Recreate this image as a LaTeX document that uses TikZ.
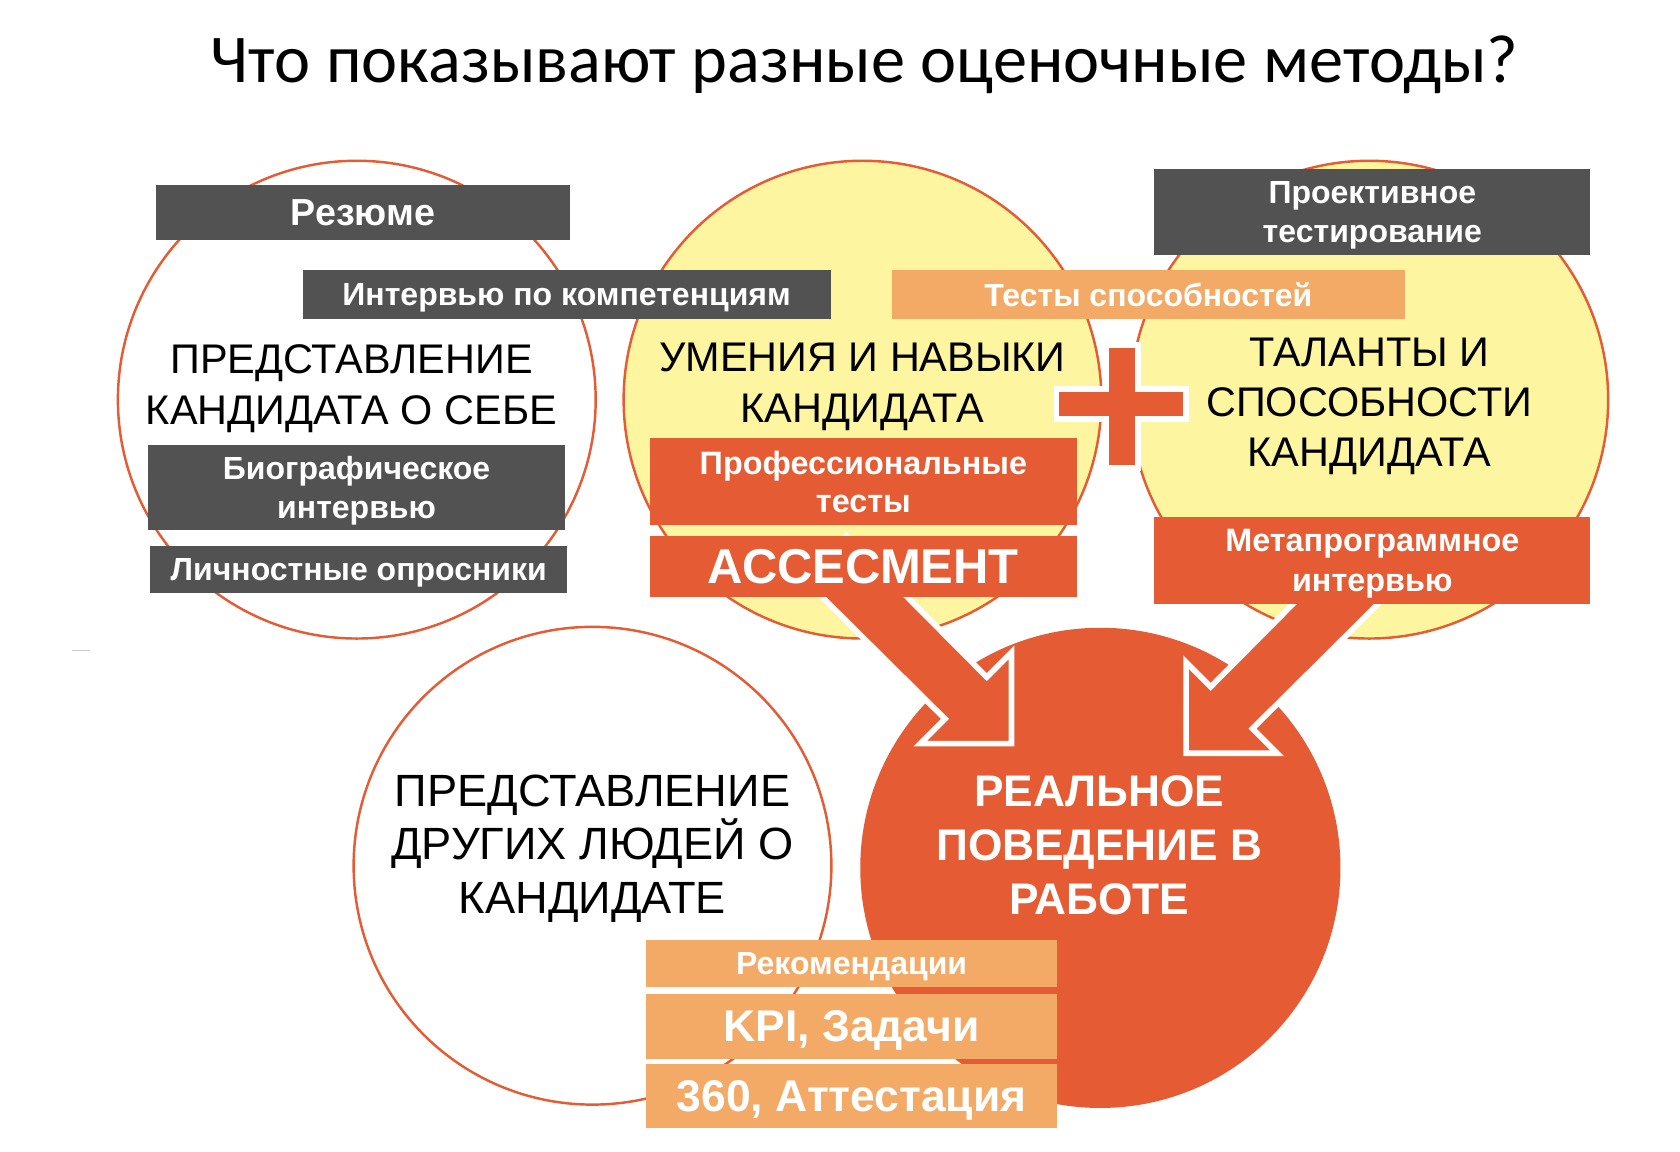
\documentclass[tikz,border=0pt]{standalone}
\usepackage{fontspec}
\setmainfont{Liberation Sans}
\newfontfamily\titlefont{Carlito}
\definecolor{brick}{HTML}{E45B34}
\definecolor{slate}{HTML}{525252}
\definecolor{peach}{HTML}{F2AA66}
\definecolor{lemon}{HTML}{FDF5A0}
\newcommand\fs[2]{\fontsize{#1}{#2}\selectfont}

\begin{document}
\begin{tikzpicture}[x=0.02cm,y=-0.02cm,
  ring/.style={circle,draw=brick,line width=1.3pt,minimum size=8.92cm,inner sep=0pt},
  word/.style={align=center,inner sep=0pt},
  box/.style={anchor=north west,inner sep=0pt,text=white,align=center,text depth=0pt},
  block/.style={fill=brick,draw=white,line width=3pt,line join=miter}]

\useasboundingbox (0,0) rectangle (1568,1075);
\fill[white] (0,0) rectangle (1568,1075);

\node[word,anchor=base,font=\titlefont\fs{36.3}{42}] (title) at (807,77) {Что показывают разные оценочные методы?};

\node[ring,fill=white] (self) at (333,373) {};
\node[ring,fill=lemon] (skills) at (805,373) {};
\node[ring,fill=lemon] (talent) at (1278,373) {};
\node[ring,fill=white] (others) at (553,808) {};
\node[ring,fill=brick] (real) at (1027,810) {};

\draw[gray!40,line width=0.8pt] (67,607) -- (84,607);

\node[word,font=\fs{22}{27.3}] (selfT) at (328,363) {ПРЕДСТАВЛЕНИЕ\\КАНДИДАТА О СЕБЕ};
\node[word,font=\fs{22}{27.3}] (skillsT) at (805,361) {УМЕНИЯ И НАВЫКИ\\КАНДИДАТА};
\node[word,font=\fs{22}{26.5}] (talentT) at (1278,379) {ТАЛАНТЫ И\\СПОСОБНОСТИ\\КАНДИДАТА};
\node[word,font=\fs{24}{28.5}] (othersT) at (553,792) {ПРЕДСТАВЛЕНИЕ\\ДРУГИХ ЛЮДЕЙ О\\КАНДИДАТЕ};
\node[word,text=white,font=\bfseries\fs{23.5}{28.5}] (realT) at (1026,789) {РЕАЛЬНОЕ\\ПОВЕДЕНИЕ В\\РАБОТЕ};

\path[block] (1032,322) -- (1062,322) -- (1062,363) -- (1107,363) -- (1107,391) -- (1062,391)
  -- (1062,437) -- (1032,437) -- (1032,391) -- (986,391) -- (986,363) -- (1032,363) -- cycle;

\path[block] (790,500) -- (921,632) -- (944,609) -- (944,694) -- (859,694) -- (882,671) -- (750,540) -- cycle;
\path[block] (1270,500) -- (1130,641) -- (1107,618) -- (1107,703) -- (1192,703) -- (1169,680) -- (1310,540) -- cycle;

\node[box,fill=slate,minimum width=7.74cm,minimum height=1.04cm,font=\bfseries\fs{20}{24}] (resume) at (145,172) {Резюме};
\node[box,fill=slate,minimum width=9.86cm,minimum height=0.90cm,font=\bfseries\fs{17}{20.5}] (interv) at (282,252) {Интервью по компетенциям};
\node[box,fill=slate,minimum width=7.78cm,minimum height=1.58cm,font=\bfseries\fs{17}{20.5}] (bio) at (138,415) {Биографическое\\интервью};
\node[box,fill=slate,minimum width=7.78cm,minimum height=0.88cm,font=\bfseries\fs{17}{20.5}] (person) at (140,509) {Личностные опросники};
\node[box,fill=slate,minimum width=8.14cm,minimum height=1.62cm,font=\bfseries\fs{17}{21}] (project) at (1077,157) {Проективное\\тестирование};
\node[box,fill=peach,minimum width=9.58cm,minimum height=0.90cm,font=\bfseries\fs{17}{20.5}] (ability) at (832,252) {Тесты способностей};
\node[box,fill=brick,minimum width=7.98cm,minimum height=1.64cm,font=\bfseries\fs{17.2}{20}] (prof) at (606,408) {Профессиональные\\тесты};
\node[box,fill=brick,minimum width=7.98cm,minimum height=1.14cm,font=\bfseries\fs{26}{30}] (assess) at (606,500) {АССЕСМЕНТ};
\node[box,fill=brick,minimum width=8.14cm,minimum height=1.62cm,font=\bfseries\fs{17.2}{21}] (meta) at (1077,482) {Метапрограммное\\интервью};
\node[box,fill=peach,minimum width=7.66cm,minimum height=0.88cm,font=\bfseries\fs{17}{20.5}] (refs) at (603,877) {Рекомендации};
\node[box,fill=peach,minimum width=7.66cm,minimum height=1.22cm,font=\bfseries\fs{23.6}{27}] (kpi) at (603,927) {KPI, Задачи};
\node[box,fill=peach,minimum width=7.66cm,minimum height=1.18cm,font=\bfseries\fs{23.6}{28}] (cert) at (603,993) {360, Аттестация};

\end{tikzpicture}
\end{document}
